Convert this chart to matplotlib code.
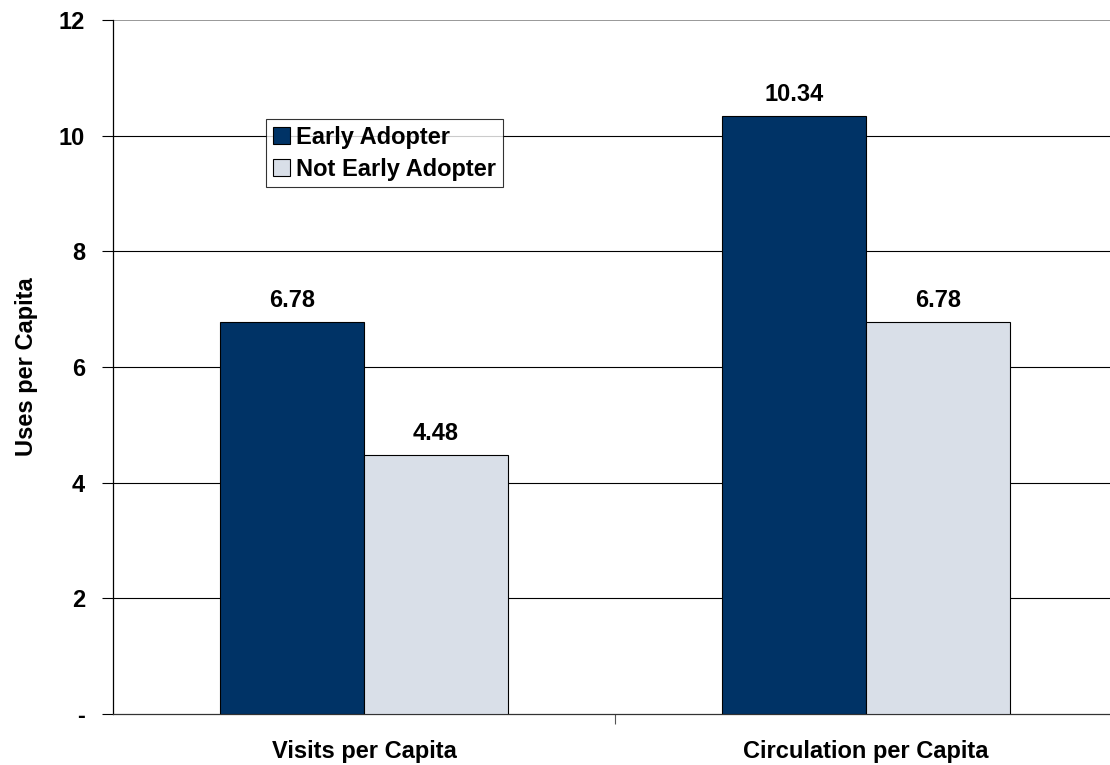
import matplotlib.pyplot as plt
import numpy as np

plt.rcParams['font.family'] = ['Liberation Sans', 'DejaVu Sans']
plt.rcParams['font.weight'] = 'bold'

categories = ['Visits per Capita', 'Circulation per Capita']
early = [6.78, 10.34]
not_early = [4.48, 6.78]
yticks = [0, 2, 4, 6, 8, 10, 12]
ytick_labels = ['-', '2', '4', '6', '8', '10', '12']

fig = plt.figure(figsize=(11.1, 7.65), dpi=100)
ax = fig.add_axes([113/1110, 51/765, 1004/1110, 694/765])

x = np.arange(len(categories))
w = 0.287
b1 = ax.bar(x - w/2, early, w, color='#003366', edgecolor='black', linewidth=0.8,
            label='Early Adopter', zorder=3)
b2 = ax.bar(x + w/2, not_early, w, color='#D9DFE8', edgecolor='black', linewidth=0.8,
            label='Not Early Adopter', zorder=3)

# value labels above bars
for bars in (b1, b2):
    for r in bars:
        h = r.get_height()
        ax.text(r.get_x() + r.get_width()/2, h + 0.17, '%.2f' % h,
                ha='center', va='bottom', fontsize=17, fontweight='bold')

ax.set_xlim(-0.5, 1.5)
ax.set_ylim(0, 12)
ax.set_yticks(yticks)
ax.set_yticklabels(ytick_labels, fontsize=17, fontweight='bold')
ax.set_xticks(x)
ax.set_xticklabels(categories, fontsize=17, fontweight='bold')
ax.tick_params(axis='x', length=0, pad=19)
ax.set_xticks([0.5], minor=True)
ax.tick_params(axis='x', which='minor', length=7, width=0.8, color='#555555', direction='out')
ax.tick_params(axis='y', length=8, width=0.8, direction='out', pad=12)

for yv in yticks[1:-1]:
    ax.axhline(yv, color='black', linewidth=0.8, zorder=1)
ax.axhline(12, color='#888888', linewidth=1.2, zorder=1)

ax.spines['top'].set_visible(False)
ax.spines['right'].set_visible(False)
ax.spines['left'].set_linewidth(0.9)
ax.spines['bottom'].set_linewidth(0.9)
ax.spines['bottom'].set_color('#333333')

ax.set_ylabel('Uses per Capita', fontsize=17, fontweight='bold', labelpad=15)

leg = ax.legend(loc='upper left', bbox_to_anchor=(153/1004, 1 - 99/694), fontsize=17,
                frameon=True, fancybox=False, handlelength=0.75, handleheight=0.75,
                handletextpad=0.25, borderpad=0.28, labelspacing=0.38, borderaxespad=0)
leg.get_frame().set_edgecolor('black')
leg.get_frame().set_linewidth(0.8)
leg.set_zorder(5)

plt.savefig('out.png', dpi=100)
